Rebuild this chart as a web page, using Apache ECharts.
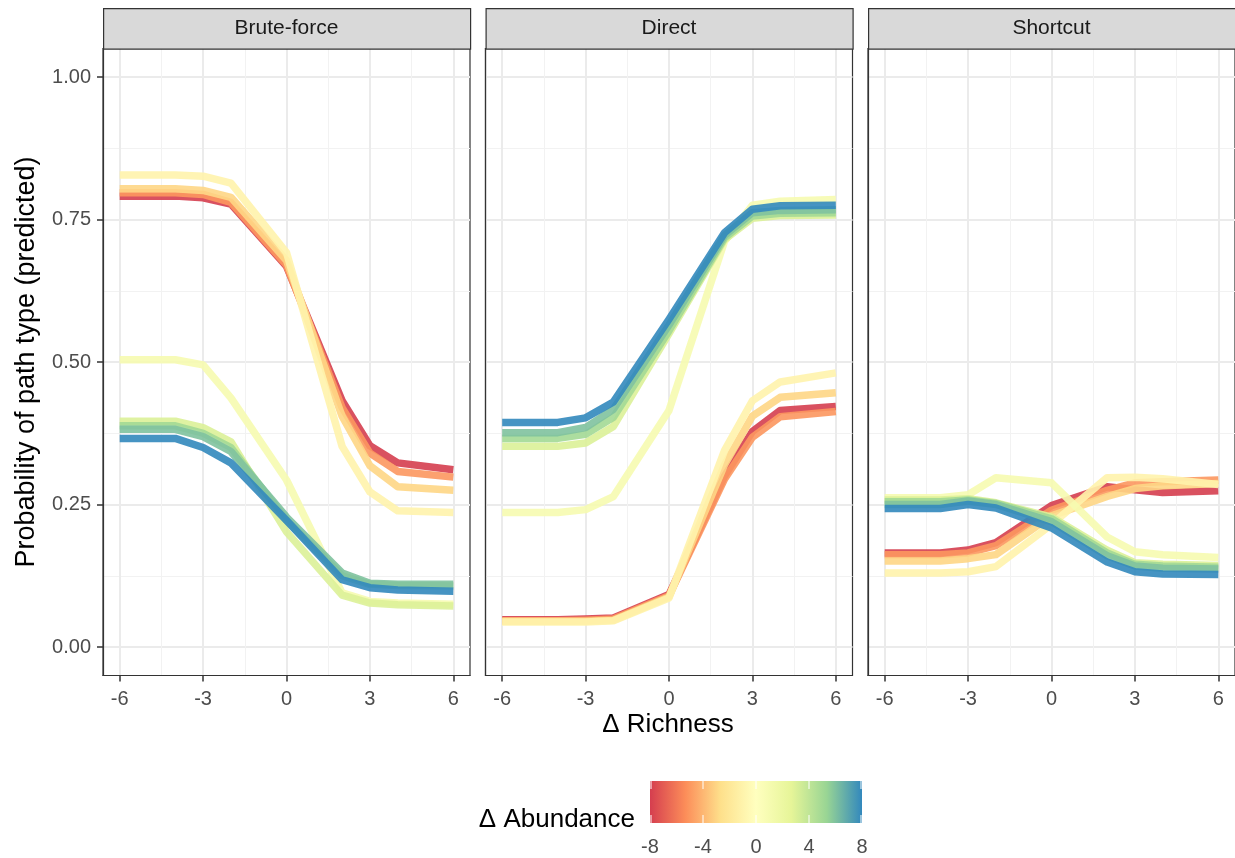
<!DOCTYPE html>
<html>
<head>
<meta charset="utf-8">
<script src="https://cdn.jsdelivr.net/npm/echarts@6/dist/echarts.min.js"></script>
<style>
html, body { margin: 0; padding: 0; background: #fff; }
#chart { width: 1235px; height: 858px; }
</style>
</head>
<body>
<div id="chart"></div>
<script>
// x values (Δ Richness) and the Δ Abundance level of each line
var richness = [-6, -4, -3, -2, 0, 2, 3, 4, 6];
var abundance = [-8, -5, -3, -1, 1, 3, 5, 6, 8];
var panels = ["Brute-force", "Direct", "Shortcut"];
var xTicks = [-6, -3, 0, 3, 6];
var xMinor = [-4.5, -1.5, 1.5, 4.5];
var yTicks = [0, 0.25, 0.5, 0.75, 1];
var yMinor = [0.125, 0.375, 0.625, 0.875];
var legendTicks = [-8, -4, 0, 4, 8];

// one row per abundance level, one value per richness value
var bruteForce = [
  [0.791, 0.791, 0.788, 0.777, 0.668, 0.432, 0.353, 0.323, 0.311],
  [0.797, 0.797, 0.794, 0.780, 0.670, 0.420, 0.340, 0.308, 0.298],
  [0.804, 0.804, 0.801, 0.789, 0.678, 0.405, 0.318, 0.281, 0.275],
  [0.828, 0.828, 0.826, 0.814, 0.692, 0.352, 0.272, 0.239, 0.236],
  [0.504, 0.504, 0.495, 0.437, 0.293, 0.095, 0.080, 0.077, 0.075],
  [0.396, 0.396, 0.385, 0.360, 0.202, 0.091, 0.077, 0.074, 0.072],
  [0.388, 0.388, 0.375, 0.350, 0.222, 0.125, 0.110, 0.108, 0.107],
  [0.382, 0.382, 0.369, 0.343, 0.228, 0.130, 0.112, 0.110, 0.110],
  [0.366, 0.366, 0.350, 0.323, 0.222, 0.118, 0.104, 0.100, 0.098]
];
var direct = [
  [0.048, 0.048, 0.049, 0.051, 0.092, 0.300, 0.378, 0.415, 0.422],
  [0.046, 0.046, 0.047, 0.049, 0.090, 0.295, 0.368, 0.404, 0.413],
  [0.045, 0.045, 0.045, 0.047, 0.088, 0.320, 0.405, 0.438, 0.446],
  [0.044, 0.044, 0.044, 0.046, 0.086, 0.345, 0.432, 0.465, 0.481],
  [0.236, 0.236, 0.241, 0.264, 0.415, 0.712, 0.775, 0.782, 0.785],
  [0.352, 0.352, 0.358, 0.387, 0.550, 0.715, 0.752, 0.757, 0.758],
  [0.366, 0.366, 0.373, 0.403, 0.555, 0.718, 0.756, 0.761, 0.762],
  [0.376, 0.376, 0.385, 0.417, 0.565, 0.722, 0.762, 0.766, 0.767],
  [0.394, 0.394, 0.402, 0.430, 0.575, 0.727, 0.768, 0.774, 0.775]
];
var shortcut = [
  [0.165, 0.165, 0.170, 0.183, 0.248, 0.281, 0.276, 0.271, 0.274],
  [0.162, 0.162, 0.165, 0.178, 0.240, 0.275, 0.288, 0.290, 0.293],
  [0.151, 0.151, 0.155, 0.162, 0.230, 0.264, 0.278, 0.283, 0.287],
  [0.130, 0.130, 0.132, 0.141, 0.215, 0.297, 0.298, 0.295, 0.285],
  [0.262, 0.262, 0.267, 0.297, 0.288, 0.193, 0.167, 0.162, 0.157],
  [0.258, 0.258, 0.260, 0.253, 0.228, 0.170, 0.148, 0.145, 0.143],
  [0.255, 0.255, 0.258, 0.252, 0.225, 0.165, 0.145, 0.142, 0.140],
  [0.250, 0.250, 0.256, 0.250, 0.220, 0.160, 0.142, 0.138, 0.137],
  [0.243, 0.243, 0.250, 0.244, 0.209, 0.149, 0.132, 0.128, 0.127]
];
var panelData = [bruteForce, direct, shortcut];

// spectral palette (7 colours spread over -8..8)
var spectral = ["#d53e4f", "#fc8d59", "#fee08b", "#ffffbf", "#e6f598", "#99d594", "#3288bd"];
function hexRgb(h) {
  return [parseInt(h.substr(1, 2), 16), parseInt(h.substr(3, 2), 16), parseInt(h.substr(5, 2), 16)];
}
function colourAt(v) {
  var t = (v + 8) / 16 * (spectral.length - 1);
  var i = Math.min(spectral.length - 2, Math.max(0, Math.floor(t)));
  var f = t - i;
  var a = hexRgb(spectral[i]), b = hexRgb(spectral[i + 1]);
  var c = a.map(function (x, k) { return Math.round(x + (b[k] - x) * f); });
  return "rgb(" + c.join(",") + ")";
}

var font = "Liberation Sans";
var lefts = [103, 485.5, 868];
var panelW = 367;
var panelTop = 48.5;
var panelH = 627;

var grids = [], xAxes = [], yAxes = [], series = [], graphics = [];

for (var p = 0; p < 3; p++) {
  grids.push({
    left: lefts[p], top: panelTop, width: panelW, height: panelH,
    show: true, borderColor: "#333", borderWidth: 1.2, backgroundColor: "#fff"
  });
  // major x
  xAxes.push({
    gridIndex: p, type: "value", position: "bottom", min: -6.6, max: 6.6,
    axisLine: { show: true, onZero: false, lineStyle: { color: "#333", width: 1.2 } },
    axisTick: { show: true, customValues: xTicks, length: 6, lineStyle: { color: "#333", width: 1.5 } },
    axisLabel: { show: true, customValues: xTicks, margin: 14, color: "#4d4d4d", fontSize: 20, fontFamily: font },
    splitLine: { show: true, lineStyle: { color: "#ebebeb", width: 2 } }
  });
  // minor x
  xAxes.push({
    gridIndex: p, type: "value", position: "top", min: -6.6, max: 6.6,
    axisLine: { show: false, onZero: false },
    axisTick: { show: false, customValues: xMinor },
    axisLabel: { show: false, customValues: xMinor },
    splitLine: { show: true, lineStyle: { color: "#f2f2f2", width: 1 } }
  });
  // major y
  yAxes.push({
    gridIndex: p, type: "value", position: "left", min: -0.05, max: 1.05,
    axisLine: { show: true, onZero: false, lineStyle: { color: "#333", width: 1.2 } },
    axisTick: { show: p === 0, customValues: yTicks, length: 6, lineStyle: { color: "#333", width: 1.5 } },
    axisLabel: {
      show: p === 0, customValues: yTicks, margin: 12, color: "#4d4d4d", fontSize: 20, fontFamily: font,
      formatter: function (v) { return v.toFixed(2); }
    },
    splitLine: { show: true, lineStyle: { color: "#ebebeb", width: 2 } }
  });
  // minor y
  yAxes.push({
    gridIndex: p, type: "value", position: "right", min: -0.05, max: 1.05,
    axisLine: { show: false, onZero: false },
    axisTick: { show: false, customValues: yMinor },
    axisLabel: { show: false, customValues: yMinor },
    splitLine: { show: true, lineStyle: { color: "#f2f2f2", width: 1 } }
  });

  for (var k = 0; k < abundance.length; k++) {
    var rows = panelData[p][k];
    series.push({
      type: "line",
      name: panels[p] + " " + abundance[k],
      xAxisIndex: p * 2,
      yAxisIndex: p * 2,
      data: richness.map(function (x, i) { return [x, rows[i]]; }),
      symbol: "none",
      z: 3 + k,
      lineStyle: { width: 7.5, color: colourAt(abundance[k]), opacity: 0.9, join: "round", cap: "butt" }
    });
  }

  // strip
  graphics.push({
    type: "rect", left: lefts[p], top: 8, z: 10,
    shape: { width: panelW, height: panelTop - 8 },
    style: { fill: "#d9d9d9", stroke: "#333", lineWidth: 1.2 }
  });
  graphics.push({
    type: "text", x: lefts[p] + panelW / 2, y: 28.5, z: 11,
    style: { text: panels[p], fill: "#1a1a1a", font: "21px " + font, textAlign: "center", textVerticalAlign: "middle" }
  });
}

// axis titles
graphics.push({
  type: "text", x: 668, y: 725, z: 11,
  style: { text: "Δ Richness", fill: "#000", font: "26px " + font, textAlign: "center", textVerticalAlign: "middle" }
});
graphics.push({
  type: "text", x: 27, y: 362, rotation: Math.PI / 2, z: 11,
  style: { text: "Probability of path type (predicted)", fill: "#000", font: "27px " + font, textAlign: "center", textVerticalAlign: "middle" }
});

// colour bar legend
var barX = 650, barY = 781, barW = 212, barH = 42;
graphics.push({
  type: "text", x: 635, y: 820, z: 11,
  style: { text: "Δ Abundance", fill: "#000", font: "26px " + font, textAlign: "right", textVerticalAlign: "middle" }
});
graphics.push({
  type: "rect", x: barX, y: barY, z: 10,
  shape: { width: barW, height: barH },
  style: {
    fill: {
      type: "linear", x: 0, y: 0, x2: 1, y2: 0,
      colorStops: spectral.map(function (c, i) { return { offset: i / (spectral.length - 1), color: c }; })
    }
  }
});
legendTicks.forEach(function (v) {
  var tx = barX + (v + 8) / 16 * barW;
  tx = Math.min(barX + barW - 1, Math.max(barX + 1, tx));
  graphics.push({ type: "line", z: 11, shape: { x1: tx, y1: barY, x2: tx, y2: barY + 8 }, style: { stroke: "#fff", lineWidth: 1 } });
  graphics.push({ type: "line", z: 11, shape: { x1: tx, y1: barY + barH - 8, x2: tx, y2: barY + barH }, style: { stroke: "#fff", lineWidth: 1 } });
  graphics.push({
    type: "text", x: barX + (v + 8) / 16 * barW, y: 847, z: 11,
    style: { text: String(v), fill: "#4d4d4d", font: "20px " + font, textAlign: "center", textVerticalAlign: "middle" }
  });
});

var chart = echarts.init(document.getElementById("chart"));
chart.setOption({
  animation: false,
  backgroundColor: "#fff",
  grid: grids,
  xAxis: xAxes,
  yAxis: yAxes,
  series: series,
  graphic: graphics
});
</script>
</body>
</html>
